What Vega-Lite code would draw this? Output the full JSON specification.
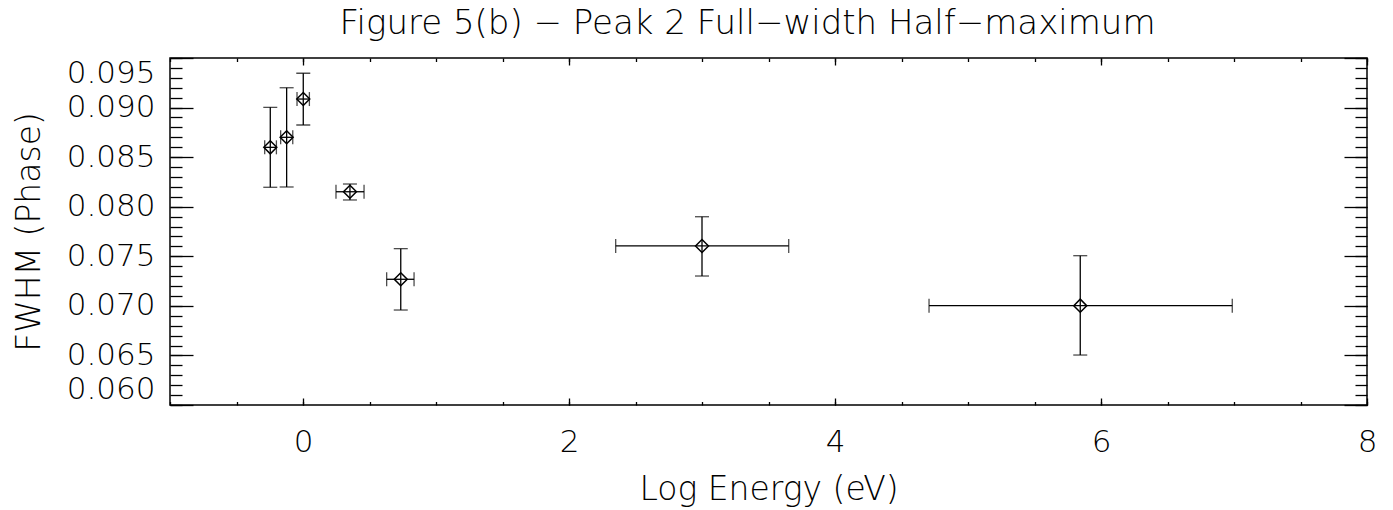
{
  "$schema": "https://vega.github.io/schema/vega-lite/v6.json",
  "width": 1197,
  "height": 347,
  "autosize": "none",
  "padding": {"left": 170, "top": 58, "right": 26, "bottom": 105},
  "background": "white",
  "title": {
    "text": "Figure 5(b) − Peak 2 Full−width Half−maximum",
    "font": "DejaVu Sans",
    "fontSize": 34,
    "fontWeight": 200,
    "color": "black",
    "anchor": "middle",
    "frame": "group",
    "baseline": "alphabetic",
    "offset": -11,
    "dx": -21
  },
  "data": {
    "values": [
      {"x": -0.246, "xlo": -0.288, "xhi": -0.200, "y": 0.08599, "ylo": 0.08196, "yhi": 0.09002},
      {"x": -0.123, "xlo": -0.168, "xhi": -0.077, "y": 0.08700, "ylo": 0.08199, "yhi": 0.09200},
      {"x": 0.002, "xlo": -0.045, "xhi": 0.048, "y": 0.09086, "ylo": 0.08824, "yhi": 0.09346},
      {"x": 0.353, "xlo": 0.248, "xhi": 0.459, "y": 0.08151, "ylo": 0.08068, "yhi": 0.08229},
      {"x": 0.735, "xlo": 0.629, "xhi": 0.835, "y": 0.07268, "ylo": 0.06958, "yhi": 0.07577},
      {"x": 3.0, "xlo": 2.351, "xhi": 3.652, "y": 0.07604, "ylo": 0.07301, "yhi": 0.07899},
      {"x": 5.844, "xlo": 4.707, "xhi": 6.987, "y": 0.07002, "ylo": 0.06504, "yhi": 0.07506}
    ]
  },
  "resolve": {"axis": {"x": "independent", "y": "independent"}},
  "layer": [
    {
      "mark": {"type": "rule", "color": "black", "strokeWidth": 1.3},
      "encoding": {
        "x": {"field": "x", "type": "quantitative", "scale": {"domain": [-1, 8], "nice": false, "zero": false},
          "axis": {"orient": "bottom", "values": [0, 2, 4, 6, 8], "ticks": false, "labelPadding": 22, "title": "Log Energy (eV)", "titlePadding": 16, "labelFlush": false}},
        "y": {"field": "ylo", "type": "quantitative", "scale": {"domain": [0.06, 0.095], "nice": false, "zero": false},
          "axis": {"orient": "left", "values": [0.06, 0.065, 0.07, 0.075, 0.08, 0.085, 0.09, 0.095], "format": ".3f", "ticks": false, "labelPadding": 15, "labelFlush": true, "title": "FWHM (Phase)", "titlePadding": 20}},
        "y2": {"field": "yhi"}
      }
    },
    {
      "mark": {"type": "rule", "color": "black", "strokeWidth": 1.3},
      "encoding": {
        "x": {"field": "xlo", "type": "quantitative", "scale": {"domain": [-1, 8], "nice": false, "zero": false},
          "axis": {"orient": "bottom", "values": [0, 2, 4, 6, 8], "tickSize": -7, "labels": false, "title": null}},
        "x2": {"field": "xhi"},
        "y": {"field": "y", "type": "quantitative", "scale": {"domain": [0.06, 0.095], "nice": false, "zero": false},
          "axis": {"orient": "left", "values": [0.06, 0.065, 0.07, 0.075, 0.08, 0.085, 0.09, 0.095], "tickSize": -23, "labels": false, "title": null}}
      }
    },
    {
      "mark": {"type": "tick", "orient": "horizontal", "color": "black", "size": 14, "thickness": 1.3},
      "encoding": {
        "x": {"field": "x", "type": "quantitative", "scale": {"domain": [-1, 8], "nice": false, "zero": false},
          "axis": {"orient": "bottom", "values": [-1, -0.5, 0, 0.5, 1, 1.5, 2, 2.5, 3, 3.5, 4, 4.5, 5, 5.5, 6, 6.5, 7, 7.5, 8], "tickSize": -3.5, "labels": false, "title": null}},
        "y": {"field": "ylo", "type": "quantitative", "scale": {"domain": [0.06, 0.095], "nice": false, "zero": false},
          "axis": {"orient": "left", "values": [0.06, 0.061, 0.062, 0.063, 0.064, 0.065, 0.066, 0.067, 0.068, 0.069, 0.07, 0.071, 0.072, 0.073, 0.074, 0.075, 0.076, 0.077, 0.078, 0.079, 0.08, 0.081, 0.082, 0.083, 0.084, 0.085, 0.086, 0.087, 0.088, 0.089, 0.09, 0.091, 0.092, 0.093, 0.094, 0.095], "tickSize": -12, "labels": false, "title": null}}
      }
    },
    {
      "mark": {"type": "tick", "orient": "horizontal", "color": "black", "size": 14, "thickness": 1.3},
      "encoding": {
        "x": {"field": "x", "type": "quantitative", "scale": {"domain": [-1, 8], "nice": false, "zero": false},
          "axis": {"orient": "top", "values": [0, 2, 4, 6, 8], "tickSize": -7, "labels": false, "title": null}},
        "y": {"field": "yhi", "type": "quantitative", "scale": {"domain": [0.06, 0.095], "nice": false, "zero": false},
          "axis": {"orient": "right", "values": [0.06, 0.065, 0.07, 0.075, 0.08, 0.085, 0.09, 0.095], "tickSize": -23, "labels": false, "title": null}}
      }
    },
    {
      "mark": {"type": "tick", "orient": "vertical", "color": "black", "size": 14, "thickness": 1.3},
      "encoding": {
        "x": {"field": "xlo", "type": "quantitative", "scale": {"domain": [-1, 8], "nice": false, "zero": false},
          "axis": {"orient": "top", "values": [-1, -0.5, 0, 0.5, 1, 1.5, 2, 2.5, 3, 3.5, 4, 4.5, 5, 5.5, 6, 6.5, 7, 7.5, 8], "tickSize": -3.5, "labels": false, "title": null}},
        "y": {"field": "y", "type": "quantitative", "scale": {"domain": [0.06, 0.095], "nice": false, "zero": false},
          "axis": {"orient": "right", "values": [0.06, 0.061, 0.062, 0.063, 0.064, 0.065, 0.066, 0.067, 0.068, 0.069, 0.07, 0.071, 0.072, 0.073, 0.074, 0.075, 0.076, 0.077, 0.078, 0.079, 0.08, 0.081, 0.082, 0.083, 0.084, 0.085, 0.086, 0.087, 0.088, 0.089, 0.09, 0.091, 0.092, 0.093, 0.094, 0.095], "tickSize": -12, "labels": false, "title": null}}
      }
    },
    {
      "mark": {"type": "tick", "orient": "vertical", "color": "black", "size": 14, "thickness": 1.3},
      "encoding": {
        "x": {"field": "xhi", "type": "quantitative", "scale": {"domain": [-1, 8], "nice": false, "zero": false}, "axis": null},
        "y": {"field": "y", "type": "quantitative", "scale": {"domain": [0.06, 0.095], "nice": false, "zero": false}, "axis": null}
      }
    },
    {
      "mark": {"type": "point", "shape": "diamond", "filled": false, "color": "black", "size": 169, "strokeWidth": 1.5, "opacity": 1},
      "encoding": {
        "x": {"field": "x", "type": "quantitative", "scale": {"domain": [-1, 8], "nice": false, "zero": false}, "axis": null},
        "y": {"field": "y", "type": "quantitative", "scale": {"domain": [0.06, 0.095], "nice": false, "zero": false}, "axis": null}
      }
    }
  ],
  "config": {
    "view": {"stroke": "black", "strokeWidth": 1.5},
    "axis": {
      "domain": false,
      "grid": false,
      "tickColor": "black",
      "tickWidth": 1.3,
      "labelColor": "black",
      "titleColor": "black",
      "labelFont": "DejaVu Sans",
      "titleFont": "DejaVu Sans",
      "labelFontSize": 31,
      "labelFontWeight": 200,
      "titleFontSize": 33,
      "titleFontWeight": 200
    }
  }
}
